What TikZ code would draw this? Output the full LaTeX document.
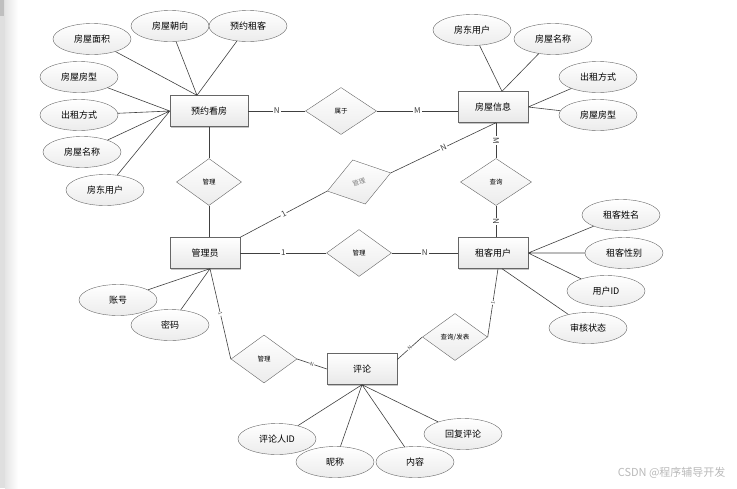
\documentclass[tikz,border=0pt]{standalone}
\usepackage{fontspec}
\setmainfont{Noto Sans CJK SC}
\usetikzlibrary{shapes.geometric,shadows}
\begin{document}
\begin{tikzpicture}[x=1pt,y=-1pt,
  entity/.style={rectangle,draw=black!60,top color=white,bottom color=gray!18,minimum width=70pt,minimum height=31pt,font=\fontsize{9}{10}\selectfont,drop shadow={shadow xshift=1.2pt,shadow yshift=-1.2pt,fill=black!45}},
  attr/.style={ellipse,draw=black!60,top color=white,bottom color=gray!15,minimum width=78pt,minimum height=31pt,inner sep=0pt,font=\fontsize{9}{10}\selectfont},
  rel/.style={diamond,draw=black!60,top color=white,bottom color=gray!15,minimum width=68pt,minimum height=47pt,inner sep=0pt,font=\fontsize{6.5}{7}\selectfont},
  card/.style={fill=white,inner sep=1pt,font=\fontsize{8}{9}\selectfont},
  tinycard/.style={card,inner sep=0.5pt,font=\fontsize{5}{5}\selectfont},
  conn/.style={black!75,line width=0.6pt}]
\useasboundingbox (0,0) rectangle (737,488);
\fill[gray!25] (0,0) rectangle (5,488);
\fill[gray!50] (0,0) rectangle (4,16);
\shade[left color=gray!20,right color=white] (5,0) rectangle (18,488);
% entities
\node[entity,minimum width=78pt] (yk) at (209,111) {预约看房};
\node[entity] (fw) at (493,107) {房屋信息};
\node[entity] (gly) at (205,253) {管理员};
\node[entity] (zk) at (493,253) {租客用户};
\node[entity] (pl) at (362,369) {评论};
% relations
\node[rel,minimum width=71pt] (sy) at (341,111) {属于};
\node[rel,minimum width=65pt] (gl1) at (209,182) {管理};
\node[rel,rotate=16,minimum width=66pt,minimum height=46pt,text=gray] (gl2) at (359,182) {管理};
\node[rel,minimum width=71pt] (cx) at (496,182) {查询};
\node[rel,minimum width=65pt] (gl3) at (359,253) {管理};
\node[rel,minimum width=66pt,minimum height=48pt] (gl4) at (264,359) {管理};
\node[rel,minimum width=65pt] (fb) at (455,337) {查询/发表};
% attributes
\node[attr] (y1) at (92,39) {房屋面积};
\node[attr] (y2) at (170,26) {房屋朝向};
\node[attr] (y3) at (248,26) {预约租客};
\node[attr] (y4) at (79,77) {房屋房型};
\node[attr] (y5) at (79,115) {出租方式};
\node[attr] (y6) at (82,152) {房屋名称};
\node[attr] (y7) at (105,190) {房东用户};
\node[attr] (f1) at (472,30) {房东用户};
\node[attr] (f2) at (553,39) {房屋名称};
\node[attr] (f3) at (598,77) {出租方式};
\node[attr] (f4) at (598,115) {房屋房型};
\node[attr] (z1) at (621,215) {租客姓名};
\node[attr] (z2) at (624,253) {租客性别};
\node[attr] (z3) at (606,291) {用户ID};
\node[attr] (z4) at (588,328) {审核状态};
\node[attr] (g1) at (118,300) {账号};
\node[attr] (g2) at (170,325) {密码};
\node[attr] (p1) at (277,439) {评论人ID};
\node[attr] (p2) at (335,462) {昵称};
\node[attr] (p3) at (415,462) {内容};
\node[attr] (p4) at (463,434) {回复评论};
\coordinate (ykt) at ([xshift=-12pt]yk.north);
\coordinate (fwt) at ([xshift=9pt]fw.north);
\coordinate (zkb) at ([xshift=9pt]zk.south);
\coordinate (glb) at ([xshift=5pt]gly.south);
% attribute links
\draw[conn] (y1) -- (ykt) (y2) -- (ykt) (y3) -- (ykt);
\draw[conn] (y4) -- (yk.west) (y5) -- (yk.west) (y6) -- (yk.west) (y7) -- (yk.west);
\draw[conn] (f1) -- (fwt) (f2) -- (fwt) (f3) -- (fw.east) (f4) -- (fw.east);
\draw[conn] (z1) -- (zk.east) (z2) -- (zk.east) (z3) -- (zk.east) (z4) -- (zkb);
\draw[conn] (g1) -- (glb) (g2) -- (glb);
\draw[conn] (p1) -- (pl.south) (p2) -- (pl.south) (p3) -- (pl.south) (p4) -- (pl.south);
% relation links
\draw[conn] (yk) -- node[card]{N} (sy);
\draw[conn] (sy.east) -- node[card]{M} (sy.east -| fw.west);
\draw[conn] (yk) -- (gl1) -- (gl1 |- gly.north);
\draw[conn] (gly.north east) -- node[card,sloped]{1} (gl2.west);
\draw[conn] (gl2.east) -- node[card,sloped]{N} ([xshift=3pt]fw.south);
\draw[conn] (fw.south -| cx) -- node[card,rotate=-90]{M} (cx);
\draw[conn] (cx) -- node[card,rotate=-90]{N} (cx |- zk.north);
\draw[conn] (gly) -- node[card]{1} (gl3);
\draw[conn] (gl3) -- node[card]{N} (zk);
\draw[conn] (glb) -- node[tinycard,sloped]{1} (gl4.west);
\draw[conn] (gl4.east) -- node[tinycard,sloped]{N} (pl.west);
\draw[conn] (pl.15) -- node[tinycard,sloped]{N} (fb.west);
\draw[conn] (fb.east) -- node[tinycard,sloped]{1} ([xshift=5pt]zk.south);
\node[text=gray!55,font=\fontsize{11}{12}\selectfont,anchor=east] (wm) at (729,473) {CSDN @程序辅导开发};
\end{tikzpicture}
\end{document}
